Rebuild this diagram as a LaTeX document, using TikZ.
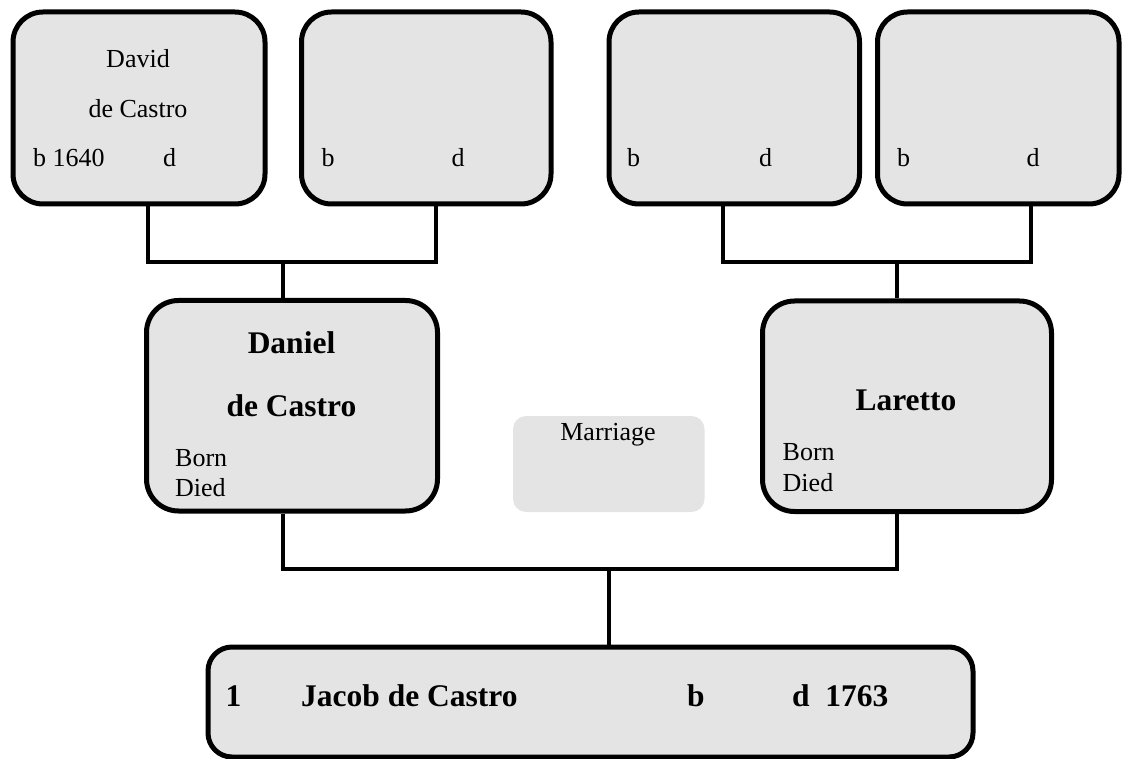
\documentclass[tikz,border=0pt]{standalone}
\usepackage{fontspec}
\setmainfont{Liberation Serif}
\definecolor{boxfill}{RGB}{228,228,228}
\begin{document}
\begin{tikzpicture}[x=1pt,y=-1pt,
  person/.style={draw=black, line width=5pt, fill=boxfill, rounded corners=30pt, inner sep=0pt},
  note/.style={fill=boxfill, rounded corners=13pt, inner sep=0pt},
  conn/.style={draw=black, line width=4.5pt},
  reg/.style={font=\fontsize{26}{30}\selectfont, inner sep=0pt},
  bld/.style={font=\fontsize{31.5}{36}\selectfont\bfseries, inner sep=0pt}]
\useasboundingbox (0,0) rectangle (1122,759);

% grandparents
\node[person, minimum width=252pt, minimum height=192pt] (g1) at (139,108) {};
\node[person, minimum width=249.5pt, minimum height=192pt] (g2) at (426.25,108) {};
\node[person, minimum width=250.5pt, minimum height=192pt] (g3) at (734.25,108) {};
\node[person, minimum width=241.5pt, minimum height=192pt] (g4) at (998.25,108) {};

% parents
\node[person, rounded corners=32pt, minimum width=291pt, minimum height=210.5pt] (father) at (292,405.75) {};
\node[person, rounded corners=32pt, minimum width=289pt, minimum height=210.5pt] (mother) at (907,406.25) {};
\node[note, minimum width=191.5pt, minimum height=96pt] (marriage) at (608.75,464) {};

% child
\node[person, rounded corners=24pt, minimum width=765pt, minimum height=110pt] (child) at (590.5,702) {};

% connector columns and junctions
\coordinate (x1) at (148,0);
\coordinate (x2) at (436,0);
\coordinate (x3) at (723,0);
\coordinate (x4) at (1031,0);
\coordinate (xf) at (283,0);
\coordinate (xm) at (897,0);
\coordinate (xc) at (609,0);
\coordinate (jl) at (283,262);
\coordinate (jr) at (897,262);
\coordinate (jc) at (609,569);

\draw[conn] (g1.south -| x1) |- (jl) -| (g2.south -| x2);
\draw[conn] (jl) -- (father.north -| xf);
\draw[conn] (g3.south -| x3) |- (jr) -| (g4.south -| x4);
\draw[conn] (jr) -- (mother.north -| xm);
\draw[conn] (father.south -| xf) |- (jc) -| (mother.south -| xm);
\draw[conn] (jc) -- (child.north -| xc);

% grandparent texts
\node[reg, anchor=base] (t1a) at (138,68) {David};
\node[reg, anchor=base] (t1b) at (138,118) {de Castro};
\node[reg, anchor=base west] (t1c) at (33,167) {b 1640};
\node[reg, anchor=base west] (t1d) at (163,167) {d};
\node[reg, anchor=base west] (t2c) at (321.5,167) {b};
\node[reg, anchor=base west] (t2d) at (451.5,167) {d};
\node[reg, anchor=base west] (t3c) at (627,167) {b};
\node[reg, anchor=base west] (t3d) at (759,167) {d};
\node[reg, anchor=base west] (t4c) at (897,167) {b};
\node[reg, anchor=base west] (t4d) at (1026.5,167) {d};

% parent texts
\node[bld, anchor=base] (fa) at (291.5,354) {Daniel};
\node[bld, anchor=base] (fb) at (291.5,416.5) {de Castro};
\node[reg, anchor=base west] (fc) at (175,466.5) {Born};
\node[reg, anchor=base west] (fd) at (175,496.5) {Died};
\node[bld, anchor=base] (ma) at (906,410) {Laretto};
\node[reg, anchor=base west] (mc) at (782.5,460.5) {Born};
\node[reg, anchor=base west] (md) at (782.5,491) {Died};
\node[reg, anchor=base] (mt) at (608,440) {Marriage};

% child texts
\node[bld, anchor=base west] (c1) at (225.5,706.5) {1};
\node[bld, anchor=base west] (c2) at (301,706.5) {Jacob de Castro};
\node[bld, anchor=base west] (c3) at (687,706.5) {b};
\node[bld, anchor=base west] (c4) at (792,706.5) {d~~1763};
\end{tikzpicture}
\end{document}
